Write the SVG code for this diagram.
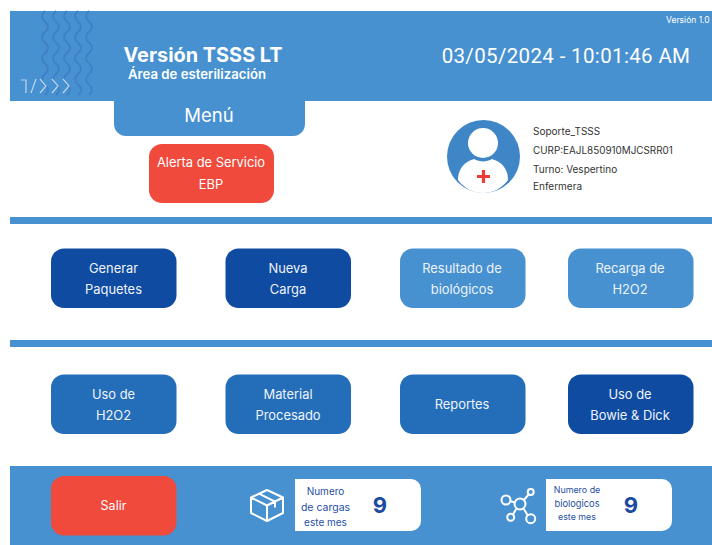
<svg xmlns="http://www.w3.org/2000/svg" width="712" height="545" viewBox="0 0 712 545">
<defs>
<style>
text{font-family:Inter,"Liberation Sans",sans-serif;text-anchor:middle;fill:#fff}
.b{font-size:12.9px;fill:#eef3fa}
.u{font-size:10px;fill:#333;text-anchor:start}
.s{font-size:10px;fill:#1f4fa3}
.t{font-size:8.900px;fill:#1f4fa3}
.n{font-size:22px;font-weight:700;fill:#1a4ba0}
.w{fill:none;stroke:#3f7fc8;stroke-width:1.800}
.i{fill:none;stroke:#fff;stroke-width:2;stroke-linejoin:round;stroke-linecap:round}
.d{fill:#0f4ba1}.m{fill:#246db8}.l{fill:#4791d0}
</style>
<path id="wave" d="M0 0q-6 5 0 10.500t0 10.500 0 10.500 0 10.500 0 10.500 0 10.500 0 10.500 0 10.500"/>
</defs>
<rect x="10" y="11" width="702" height="90" fill="#4791d0"/>
<g id="waves">
<use href="#wave" class="w" x="45" y="11"/>
<use href="#wave" class="w" x="56" y="11"/>
<use href="#wave" class="w" x="67" y="11"/>
<use href="#wave" class="w" x="78" y="11"/>
<use href="#wave" class="w" x="89" y="11"/>
</g>
<path d="M21 80h5v13M31 93l5-14M40 79l6 7-6 7M52 79l6 7-6 7M63 79l6 7-6 7" fill="none" stroke="#b9d6ef" stroke-width="1.200"/>
<text x="203" y="62" font-size="19.900" font-weight="700">Versión TSSS LT</text>
<text x="197" y="79" font-size="13.200" font-weight="600">Área de esterilización</text>
<text x="566" y="63" font-size="20.500" style="font-family:Roboto,'Liberation Sans',sans-serif;letter-spacing:.35px">03/05/2024 - 10:01:46 AM</text>
<text x="666" y="23" font-size="8.500" style="text-anchor:start">Versión 1.0</text>
<g id="menu"><path d="M114 101H305V124a12 12 0 0 1-12 12H126a12 12 0 0 1-12-12Z" fill="#4791d0"/><text x="209" y="122" font-size="18.500" fill="#eef3fa">Menú</text></g>
<g id="alerta"><rect x="149" y="144" width="125" height="59" rx="13" fill="#f04a3c"/><text class="b" x="211" y="167" style="fill:#fff">Alerta de Servicio</text><text class="b" x="211" y="189" style="fill:#fff">EBP</text></g>
<g id="usuario">
<circle cx="483.500" cy="156.500" r="36.500" fill="#3f86c6"/>
<path d="M458 180C458 166 468 158 483 158S508 166 508 180C501 189 493 193 483 193S465 189 458 180Z" fill="#fff"/>
<circle cx="483" cy="143" r="18.500" fill="#3f86c6"/>
<circle cx="483" cy="143" r="15" fill="#fff"/>
<path d="M483.500 170v13M477 176.500h13" stroke="#ee3b35" stroke-width="3.200"/>
<text class="u" x="533" y="135">Soporte_TSSS</text>
<text class="u" x="533" y="154" style="font-size:9.900px">CURP:EAJL850910MJCSRR01</text>
<text class="u" x="533" y="173">Turno: Vespertino</text>
<text class="u" x="533" y="190">Enfermera</text>
</g>
<g id="separadores" fill="#4791d0"><rect x="10" y="217" width="702" height="7"/><rect x="10" y="340" width="702" height="7"/></g>
<g id="generar"><rect class="d" x="51" y="248.500" width="125.500" height="59.500" rx="13"/><text class="b" x="113.500" y="272.500">Generar</text><text class="b" x="113.500" y="294">Paquetes</text></g>
<g id="nueva"><rect class="d" x="225.500" y="248.500" width="125.500" height="59.500" rx="13"/><text class="b" x="288" y="272.500">Nueva</text><text class="b" x="288" y="294">Carga</text></g>
<g id="resultado"><rect class="l" x="400" y="248.500" width="125.500" height="59.500" rx="13"/><text class="b" x="462" y="272.500">Resultado de</text><text class="b" x="462" y="294">biológicos</text></g>
<g id="recarga"><rect class="l" x="568" y="248.500" width="125.500" height="59.500" rx="13"/><text class="b" x="630" y="272.500">Recarga de</text><text class="b" x="630" y="294">H2O2</text></g>
<g id="uso"><rect class="m" x="51" y="374.500" width="125.500" height="59.500" rx="13"/><text class="b" x="113.500" y="398.500">Uso de</text><text class="b" x="113.500" y="420">H2O2</text></g>
<g id="material"><rect class="m" x="225.500" y="374.500" width="125.500" height="59.500" rx="13"/><text class="b" x="288" y="398.500">Material</text><text class="b" x="288" y="420">Procesado</text></g>
<g id="reportes"><rect class="m" x="400" y="374.500" width="125.500" height="59.500" rx="13"/><text class="b" x="462" y="409">Reportes</text></g>
<g id="bowie"><rect class="d" x="568" y="374.500" width="125.500" height="59.500" rx="13"/><text class="b" x="630" y="398.500">Uso de</text><text class="b" x="630" y="420">Bowie &amp; Dick</text></g>
<rect x="10" y="466" width="702" height="79" fill="#4791d0"/>
<g id="salir"><rect x="51" y="476" width="125.500" height="59.500" rx="13" fill="#f04a3c"/><text x="113.500" y="510" font-size="12.500">Salir</text></g>
<g id="cargas">
<path class="i" d="M267 490l16 7.500v15.500l-16 8-16-8v-15.500ZM251 497.500l16 8 16-8M267 505.500v15.500M259 493.700l16 8v5"/>
<path d="M295 479H411a10 10 0 0 1 10 10v32a10 10 0 0 1-10 10H295Z" fill="#fff"/>
<text class="s" x="325.500" y="495">Numero</text><text class="s" x="325.500" y="511" style="font-size:10.500px">de cargas</text><text class="s" x="325.500" y="526">este mes</text>
<text class="n" x="380" y="513">9</text>
</g>
<g id="biologicos">
<g class="i"><circle cx="520" cy="504" r="5.500"/><circle cx="506" cy="500" r="4.500"/><circle cx="530.700" cy="492" r="3"/><circle cx="510.700" cy="517.300" r="3.500"/><circle cx="530.700" cy="518.700" r="4.500"/><path d="M510.500 501.200l4.300 1.200M524 500l4.500-5.500M516.500 508.500l-3.500 6M523.500 508.500l4 6.500"/></g>
<path d="M546 479H662a10 10 0 0 1 10 10v32a10 10 0 0 1-10 10H546Z" fill="#fff"/>
<text class="t" x="577" y="493">Numero de</text><text class="t" x="577" y="507" style="font-size:9.300px">biologicos</text><text class="t" x="577" y="520">este mes</text>
<text class="n" x="631" y="513">9</text>
</g>
</svg>
